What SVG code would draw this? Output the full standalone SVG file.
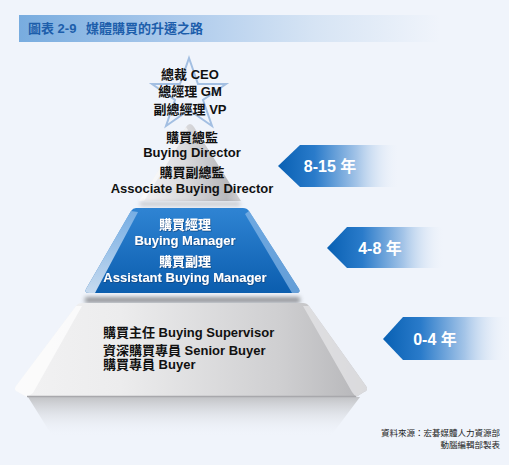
<svg xmlns="http://www.w3.org/2000/svg" width="509" height="465" viewBox="0 0 509 465">
<defs>
<style>
text{font-family:"Liberation Sans","Noto Sans CJK TC",sans-serif;font-weight:bold}
.dk{fill:#111;font-size:13px}
.wt{fill:#fff;font-size:13px}
.yr{fill:#fff;font-size:16px}
.src{fill:#222;font-size:8.5px;font-weight:normal}
.ttl{fill:#1d5eab;font-size:13px}
</style>
<linearGradient id="titleG" x1="19" y1="0" x2="440" y2="0" gradientUnits="userSpaceOnUse">
<stop offset="0" stop-color="#78acdf"/><stop offset="0.35" stop-color="#a9c8eb"/><stop offset="0.7" stop-color="#d6e4f4"/><stop offset="1" stop-color="#f0f4fb"/>
</linearGradient>
<linearGradient id="arrG" x1="0" y1="0" x2="1" y2="0">
<stop offset="0" stop-color="#0860b3"/><stop offset="0.3" stop-color="#2a7bca"/><stop offset="0.65" stop-color="#a5c5e8"/><stop offset="1" stop-color="#f0f4fb" stop-opacity="0"/>
</linearGradient>
<linearGradient id="grayTop" x1="138" y1="0" x2="242" y2="0" gradientUnits="userSpaceOnUse">
<stop offset="0" stop-color="#f4f4f6"/><stop offset="0.45" stop-color="#dadadd"/><stop offset="0.85" stop-color="#b8b8bc"/><stop offset="1" stop-color="#d4d4d6"/>
</linearGradient>
<linearGradient id="blueG" x1="0" y1="208" x2="0" y2="293" gradientUnits="userSpaceOnUse">
<stop offset="0" stop-color="#2f84d3"/><stop offset="1" stop-color="#0b5dae"/>
</linearGradient>
<linearGradient id="blueBevL" x1="0" y1="208" x2="0" y2="293" gradientUnits="userSpaceOnUse">
<stop offset="0" stop-color="#7fb3e6"/><stop offset="1" stop-color="#e8f0fa"/>
</linearGradient>
<linearGradient id="grayBot" x1="15" y1="0" x2="368" y2="0" gradientUnits="userSpaceOnUse">
<stop offset="0" stop-color="#f2f2f3"/><stop offset="0.3" stop-color="#ececed"/><stop offset="0.75" stop-color="#cfcfd1"/><stop offset="1" stop-color="#b5b5b8"/>
</linearGradient>
<linearGradient id="reflG" x1="0" y1="397" x2="0" y2="437" gradientUnits="userSpaceOnUse">
<stop offset="0" stop-color="#c2c3c6"/><stop offset="1" stop-color="#f0f4fb" stop-opacity="0"/>
</linearGradient>
<filter id="blur" x="-20%" y="-200%" width="140%" height="500%"><feGaussianBlur stdDeviation="2"/></filter>
<filter id="tsh" x="-10%" y="-30%" width="120%" height="160%"><feDropShadow dx="0.6" dy="0.8" stdDeviation="0.4" flood-color="#0a3a70" flood-opacity="0.8"/></filter>
</defs>
<rect width="509" height="465" fill="#f0f4fb"/>

<g id="title">
<rect x="19" y="15" width="425" height="27" fill="url(#titleG)"/>
<text class="ttl" x="28" y="33">圖表 2-9</text>
<text class="ttl" x="86" y="33">媒體購買的升遷之路</text>
</g>

<g id="tier-executive">
<polygon points="189,58 198,84 226,84 203,100 212,126 189,110 166,126 175,100 152,84 180,84" fill="none" stroke="#a3bfe2" stroke-width="2" stroke-linejoin="miter"/>
<text class="dk" x="190" y="79" text-anchor="middle">總裁 CEO</text>
<text class="dk" x="190" y="96" text-anchor="middle">總經理 GM</text>
<text class="dk" x="190" y="114" text-anchor="middle">副總經理 VP</text>
</g>

<g id="tier-director">
<path d="M186,127 Q190,121 194,127 L241,201 L139,201 Z" fill="url(#grayTop)"/>
<path d="M186,127 L139,201 L144,201 L188,130 Z" fill="#ffffff" opacity="0.6"/>
<rect x="140" y="202" width="100" height="4" fill="#9a9a9e" opacity="0.5" filter="url(#blur)"/>
<text class="dk" x="192" y="142" text-anchor="middle">購買總監</text>
<text class="dk" x="192" y="157" text-anchor="middle">Buying Director</text>
<text class="dk" x="192" y="177" text-anchor="middle">購買副總監</text>
<text class="dk" x="192" y="193" text-anchor="middle">Associate Buying Director</text>
</g>

<g id="tier-manager">
<path d="M136,208 L243,208 Q247,208 249,211 L299,289 Q301,293 296,293 L89,293 Q84,293 86,289 L131,211 Q133,208 136,208 Z" fill="url(#blueG)"/>
<path d="M131,211 L86,289 Q84,293 89,293 L95,293 L138,212 Z" fill="url(#blueBevL)" opacity="0.85"/>
<path d="M249,211 L299,289 Q301,293 296,293 L292,293 L245,214 Z" fill="#8ab9e8" opacity="0.7"/>
<g filter="url(#tsh)">
<text class="wt" x="185" y="229" text-anchor="middle">購買經理</text>
<text class="wt" x="185" y="245" text-anchor="middle">Buying Manager</text>
<text class="wt" x="185" y="266" text-anchor="middle">購買副理</text>
<text class="wt" x="185" y="282" text-anchor="middle">Assistant Buying Manager</text>
</g>
</g>

<g id="tier-staff">
<rect x="85" y="297" width="215" height="6" fill="#6e6f73" opacity="0.7" filter="url(#blur)"/>
<polygon points="28,397 360,397 330,437 53,437" fill="url(#reflG)"/>
<path d="M82,303 L303,303 Q307,303 309,306 L366,386 Q369,390 364,392 L356,397 L27,397 L18,392 Q13,390 16,386 L76,306 Q78,303 82,303 Z" fill="url(#grayBot)"/>
<path d="M76,306 L16,386 Q13,390 18,392 L27,397 L33,393 L82,306 Z" fill="#ffffff" opacity="0.7"/>
<path d="M309,306 L366,386 Q369,390 364,392 L356,397 L352,392 L303,306 Z" fill="#e4e4e6" opacity="0.8"/>
<line x1="27" y1="396.5" x2="356" y2="396.5" stroke="#a8a8ac" stroke-width="1.5"/>
<text class="dk" x="103" y="337">購買主任 Buying Supervisor</text>
<text class="dk" x="103" y="355">資深購買專員 Senior Buyer</text>
<text class="dk" x="103" y="369">購買專員 Buyer</text>
</g>

<g id="years-8-15">
<polygon points="278,166 300,145 400,145 400,187 300,187" fill="url(#arrG)"/>
<text class="yr" x="330" y="172" text-anchor="middle">8-15 年</text>
</g>
<g id="years-4-8">
<polygon points="327,248 347,227 445,227 445,268 347,268" fill="url(#arrG)"/>
<text class="yr" x="380" y="254" text-anchor="middle">4-8 年</text>
</g>
<g id="years-0-4">
<polygon points="383,339 403,317 509,317 509,360 403,360" fill="url(#arrG)"/>
<text class="yr" x="435" y="345" text-anchor="middle">0-4 年</text>
</g>

<g id="source">
<text class="src" x="500" y="436" text-anchor="end">資料來源：宏碁媒體人力資源部</text>
<text class="src" x="500" y="448" text-anchor="end">動腦編輯部製表</text>
</g>
</svg>
